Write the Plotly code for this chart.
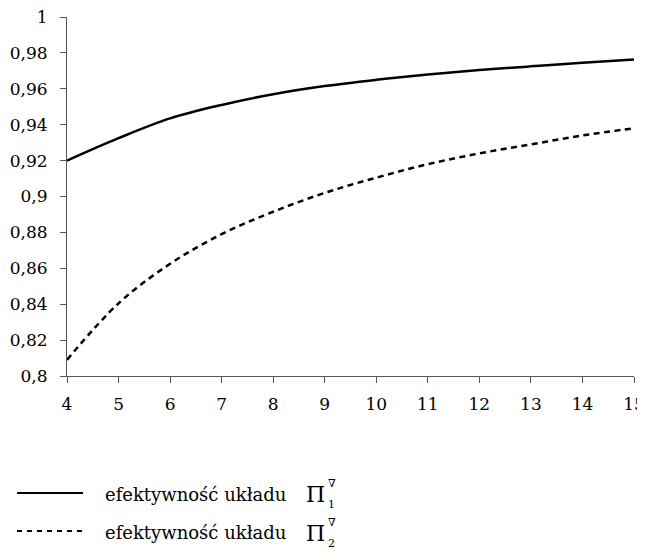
import plotly.graph_objects as go

n_values = [4, 5, 6, 7, 8, 9, 10, 11, 12, 13, 14, 15]
eff_pi1 = [0.920, 0.9325, 0.9435, 0.951, 0.957, 0.9615, 0.9650, 0.9680, 0.9705, 0.9725, 0.9745, 0.9763]
eff_pi2 = [0.809, 0.8405, 0.8625, 0.879, 0.8915, 0.902, 0.9105, 0.918, 0.924, 0.929, 0.934, 0.938]

y_tickvals = [0.8, 0.82, 0.84, 0.86, 0.88, 0.9, 0.92, 0.94, 0.96, 0.98, 1.0]
y_ticktext = ["0,8", "0,82", "0,84", "0,86", "0,88", "0,9", "0,92", "0,94", "0,96", "0,98", "1"]
x_tickvals = n_values
legend_label = "efektywność układu"
legend_subs = ["1", "2"]

FONT = "DejaVu Serif"

# page body has an 8px margin: figure placed at (8, 8)
OFF = 8
W, H = 637, 546
PL, PR, PT, PB = 67, 634, 17, 376  # plot area in page pixels

fig = go.Figure()
fig.add_trace(go.Scatter(x=n_values, y=eff_pi1, mode="lines",
                         line=dict(color="black", width=2.5, shape="spline"),
                         showlegend=False))
fig.add_trace(go.Scatter(x=n_values, y=eff_pi2, mode="lines",
                         line=dict(color="black", width=2.5, shape="spline", dash="6px,4.5px"),
                         showlegend=False))

fig.update_layout(
    width=W, height=H,
    margin=dict(l=PL - OFF, r=OFF + W - PR, t=PT - OFF, b=OFF + H - PB, autoexpand=False),
    paper_bgcolor="white", plot_bgcolor="white",
    font=dict(family=FONT, size=17, color="black"),
    showlegend=False,
    xaxis=dict(range=[4, 15], tickvals=x_tickvals, ticks="outside", ticklen=6,
               tickcolor="#555", showline=True, linecolor="#555", linewidth=1,
               showgrid=False, zeroline=False, tickfont=dict(size=17, family=FONT),
               automargin=False, ticklabeloverflow="allow", ticklabelstandoff=7),
    yaxis=dict(range=[0.8, 1.0], tickvals=y_tickvals, ticktext=y_ticktext,
               ticks="outside", ticklen=6, tickcolor="#555", showline=True,
               linecolor="#555", linewidth=1, showgrid=False, zeroline=False,
               tickfont=dict(size=17, family=FONT), automargin=False,
               ticklabeloverflow="allow", ticklabelstandoff=9),
)

pw = PR - PL
ph = PB - PT


def px_x(x):
    return (x - PL) / pw


def px_y(y):
    return (PB - y) / ph


# custom legend (line sample + text with stacked super/subscript)
legend_rows = [(494, "solid"), (532, "5px,5px")]
for i, (ypx, dash) in enumerate(legend_rows):
    fig.add_shape(type="line", xref="paper", yref="paper",
                  x0=px_x(17), x1=px_x(83), y0=px_y(ypx - 1), y1=px_y(ypx - 1),
                  line=dict(color="black", width=2, dash=dash))
    fig.add_annotation(xref="paper", yref="paper", x=px_x(103), y=px_y(ypx),
                       xanchor="left", yanchor="middle", text=legend_label,
                       showarrow=False, font=dict(size=18, family=FONT))
    fig.add_annotation(xref="paper", yref="paper", x=px_x(304), y=px_y(ypx + 1),
                       xanchor="left", yanchor="middle", text="Π",
                       showarrow=False, font=dict(size=22, family=FONT))
    fig.add_annotation(xref="paper", yref="paper", x=px_x(326), y=px_y(ypx - 10),
                       xanchor="left", yanchor="middle", text="∇",
                       showarrow=False, font=dict(size=11, family=FONT))
    fig.add_annotation(xref="paper", yref="paper", x=px_x(326), y=px_y(ypx + 11),
                       xanchor="left", yanchor="middle", text=legend_subs[i],
                       showarrow=False, font=dict(size=11, family=FONT))

fig.write_html("out.html")
